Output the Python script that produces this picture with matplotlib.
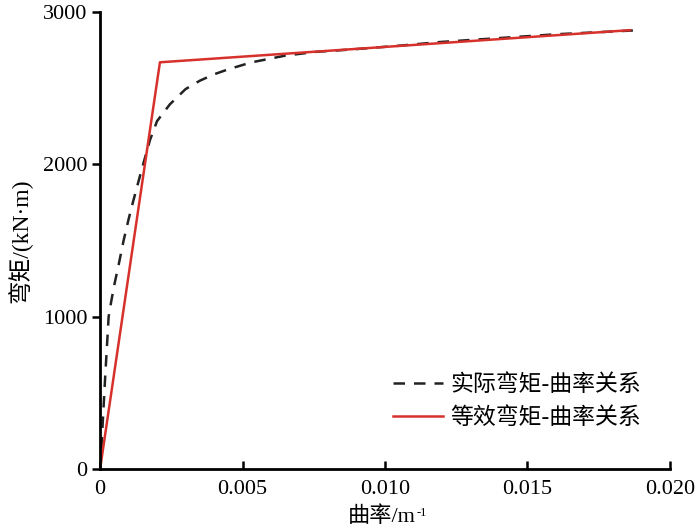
import matplotlib
matplotlib.use("Agg")
import matplotlib.pyplot as plt

plt.rcParams['font.family'] = ['Liberation Serif', 'Noto Sans CJK SC', 'DejaVu Sans']

actual_x = [0, 0.00005, 0.0001, 0.00018, 0.0003, 0.0004, 0.0005, 0.00065, 0.00082,
            0.001, 0.00115, 0.00135, 0.00148, 0.00175, 0.002, 0.00245, 0.003,
            0.0035, 0.004, 0.0045, 0.0053, 0.0065, 0.0076, 0.0088, 0.0105,
            0.012, 0.014, 0.016, 0.0187]
actual_y = [0, 150, 330, 610, 1000, 1110, 1210, 1340, 1496,
            1640, 1750, 1890, 1980, 2160, 2285, 2395, 2495,
            2550, 2592, 2625, 2670, 2715, 2740, 2755, 2780,
            2805, 2830, 2855, 2880]

# bilinear equivalent curve
equiv_x = [0, 0.0021, 0.0186]
equiv_y = [0, 2671, 2882]

fig = plt.figure(figsize=(7, 5.31), dpi=100)
ax = fig.add_axes([0.143, 0.117, 0.814, 0.86])

ax.plot(actual_x, actual_y, color='#222222', lw=1.8, linestyle=(0, (4.6, 3.6)),
        label='实际弯矩-曲率关系')
ax.plot(equiv_x, equiv_y, color='#d7312c', lw=1.8, label='等效弯矩-曲率关系')

ax.set_xlim(0, 0.020)
ax.set_ylim(0, 3000)
ax.set_xticks([0, 0.005, 0.010, 0.015, 0.020])
ax.set_xticklabels(['0', '0.005', '0.010', '0.015', '0.020'])
ax.set_yticks([0, 1000, 2000, 3000])

for s in ['top', 'right']:
    ax.spines[s].set_visible(False)
for s in ['left', 'bottom']:
    ax.spines[s].set_linewidth(2)

ax.tick_params(axis='x', direction='in', length=6, width=1.8, labelsize=16, pad=8)
ax.tick_params(axis='y', direction='out', length=6, width=1.8, labelsize=16, pad=3)

ax.set_ylabel('弯矩/(kN·m)', fontsize=17, labelpad=8)

# x label with a small superscript "-1"
xl = fig.text(0.545, 0.008, '曲率/m', fontsize=16, ha='center', va='bottom')
fig.canvas.draw()
bb = xl.get_window_extent().transformed(fig.transFigure.inverted())
fig.text(bb.x1 + 0.001, bb.y1 - 0.001, '-1', fontsize=9, ha='left', va='top')

ax.legend(loc='lower right', bbox_to_anchor=(0.985, 0.042), frameon=False, fontsize=16.5,
          handlelength=2.2, handletextpad=0.3, labelspacing=0.5)

fig.savefig('out.png', dpi=100)
